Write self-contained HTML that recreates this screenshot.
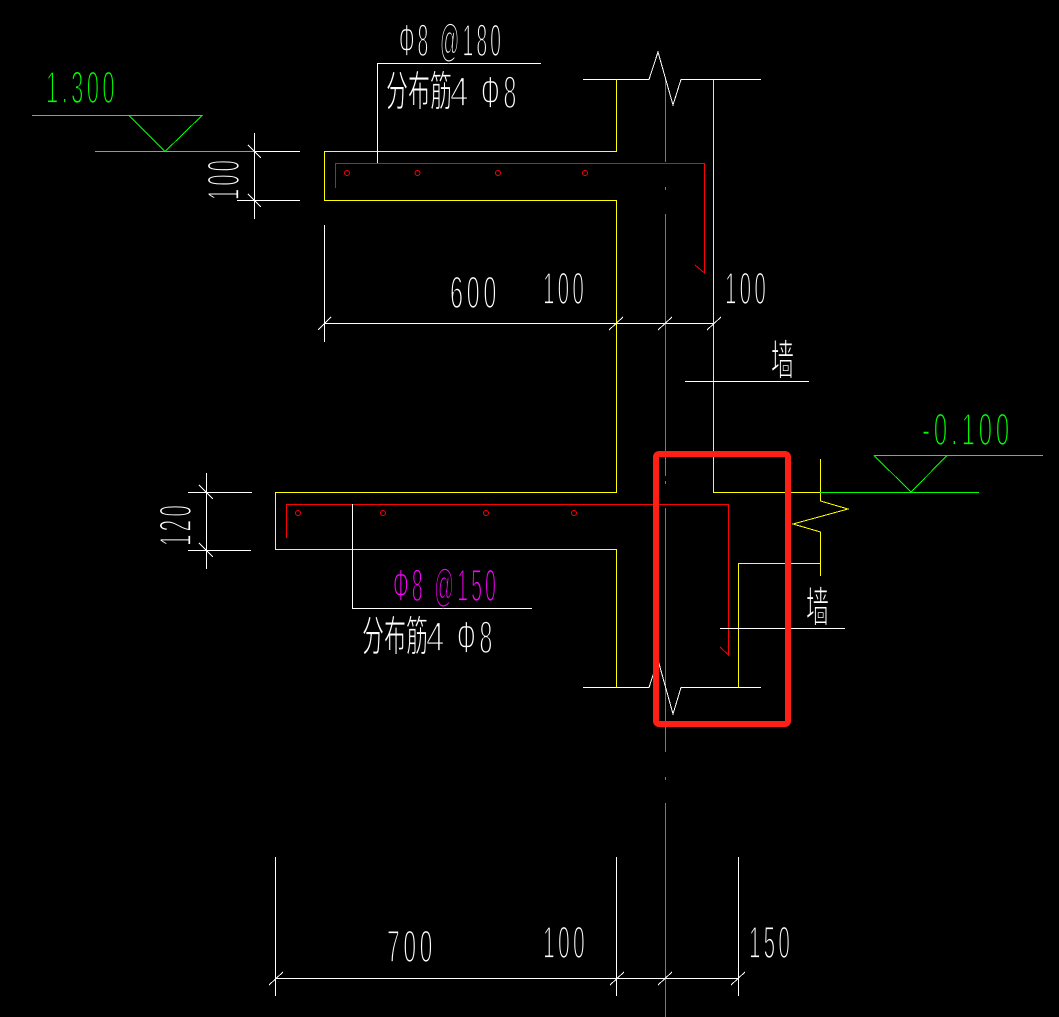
<!DOCTYPE html>
<html lang="zh">
<head>
<meta charset="utf-8">
<title>Detail</title>
<style>
html,body{margin:0;padding:0;background:#000;width:1059px;height:1017px;overflow:hidden}
svg{display:block}
.l{fill:none;shape-rendering:crispEdges;stroke-width:1}
.w{stroke:#fff}.y{stroke:#ff0}.r{stroke:#f00}.g{stroke:#0f0}.b{stroke:#5f7ca6}
text{font-family:"Liberation Sans","Noto Sans CJK SC",sans-serif;stroke:#000;stroke-width:1.7;letter-spacing:7px}
.tw{fill:#fff}.tg{fill:#0f0}.tm{fill:#f0f}
.c{font-family:"Liberation Sans","WenQuanYi Zen Hei","Noto Sans CJK SC",sans-serif;stroke-width:1;letter-spacing:0}
</style>
</head>
<body>
<svg width="1059" height="1017" viewBox="0 0 1059 1017" xmlns="http://www.w3.org/2000/svg">
<rect width="1059" height="1017" fill="#000"/>

<!-- center line -->
<g class="l b">
<path d="M665.5 79V162M665.5 187V190M665.5 214V476M665.5 481V484M665.5 508V752M665.5 777V780M665.5 803V1017"/>
</g>

<!-- concrete outline -->
<g class="l y">
<path d="M616.5 79V151.5H324.5V200.5H616.5V492.5H275.5V549.5H616.5V687"/>
<path d="M713.5 79V492.5H820"/>
<path d="M820.5 459V501L848 509L793 524L820.5 532V576"/>
<path d="M820.5 563.5H738.5V687"/>
</g>

<!-- rebar -->
<g class="l r">
<path d="M335.5 188V163.5H704.5V273L695 265"/>
<path d="M286.5 538V504.5H728.5V655L720 647"/>
</g>
<g fill="none" stroke="#f00" stroke-width="1">
<circle cx="347" cy="173" r="2.5"/><circle cx="417.5" cy="173" r="2.5"/><circle cx="498" cy="173" r="2.5"/><circle cx="585" cy="173" r="2.5"/>
<circle cx="298" cy="513" r="2.5"/><circle cx="383" cy="513" r="2.5"/><circle cx="486" cy="513" r="2.5"/><circle cx="574" cy="513" r="2.5"/>
</g>

<!-- levels -->
<g class="l g">
<path d="M32 115.5H202L165 151.5L129 115.5"/>
<path d="M95 151.5H254"/>
<path d="M820 492.5H979"/>
<path d="M874 455.5H1043"/>
<path d="M874 455.5L911 492L947 455.5"/>
</g>

<!-- white lines -->
<g class="l w">
<path d="M583 79.5H649L658 52L673 105L681 79.5H761"/>
<path d="M583 687.5H649L658 660L673 714L681 687.5H761"/>
<path d="M377.5 163V63.5H541"/>
<path d="M352.5 504V608.5H532"/>
<path d="M685 381.5H809"/>
<path d="M720 628.5H845"/>
<!-- dim 100 left -->
<path d="M254.5 133V219M254 151.5H300M237 200.5H300M248 145L261 158M248 194L261 207"/>
<!-- dim 120 -->
<path d="M206.5 473V569M188 492.5H252M188 550.5H251M199 485L213 499M199 543L213 557"/>
<!-- dim top -->
<path d="M324.5 225V342M324.5 323.5H713.5M318 330L331 317M609 330L623 317M658 330L672 317M707 330L721 317"/>
<!-- dim bottom -->
<path d="M275.5 857V996M616.5 857V996M738.5 857V996M275 978.5H738M269 985L283 972M610 985L624 972M658 985L672 972M731 985L745 972"/>
</g>

<!-- text -->
<text class="tg" x="46" y="103" font-size="45" textLength="72" lengthAdjust="spacingAndGlyphs">1.300</text>
<text class="tg" x="922" y="445" font-size="45" textLength="91" lengthAdjust="spacingAndGlyphs">-0.100</text>

<text class="tw" x="399" y="56" font-size="45" textLength="105" lengthAdjust="spacingAndGlyphs">Φ8 @180</text>
<text class="tw c" x="386" y="106" font-size="42" textLength="66" lengthAdjust="spacingAndGlyphs">分布筋</text>
<text class="tw" x="450" y="106" font-size="42" textLength="24" lengthAdjust="spacingAndGlyphs">4</text>
<text class="tw" x="481" y="108" font-size="45" textLength="39" lengthAdjust="spacingAndGlyphs">Φ8</text>

<text class="tm" x="393" y="601" font-size="45" textLength="106" lengthAdjust="spacingAndGlyphs">Φ8 @150</text>
<text class="tw c" x="362" y="651" font-size="42" textLength="66" lengthAdjust="spacingAndGlyphs">分布筋</text>
<text class="tw" x="426" y="651" font-size="42" textLength="24" lengthAdjust="spacingAndGlyphs">4</text>
<text class="tw" x="457" y="653" font-size="45" textLength="39" lengthAdjust="spacingAndGlyphs">Φ8</text>

<text class="tw" x="450" y="308" font-size="45" textLength="50" lengthAdjust="spacingAndGlyphs">600</text>
<text class="tw" x="543" y="304" font-size="45" textLength="44" lengthAdjust="spacingAndGlyphs">100</text>
<text class="tw" x="725" y="304" font-size="45" textLength="44" lengthAdjust="spacingAndGlyphs">100</text>
<text class="tw" x="387" y="962" font-size="45" textLength="49" lengthAdjust="spacingAndGlyphs">700</text>
<text class="tw" x="543" y="958" font-size="45" textLength="45" lengthAdjust="spacingAndGlyphs">100</text>
<text class="tw" x="749" y="958" font-size="45" textLength="44" lengthAdjust="spacingAndGlyphs">150</text>

<text class="tw" transform="translate(239 200) rotate(-90)" x="0" y="0" font-size="45" textLength="43" lengthAdjust="spacingAndGlyphs">100</text>
<text class="tw" transform="translate(191 546) rotate(-90)" x="0" y="0" font-size="45" textLength="44" lengthAdjust="spacingAndGlyphs">120</text>

<text class="tw c" x="771" y="375" font-size="42" textLength="23" lengthAdjust="spacingAndGlyphs">墙</text>
<text class="tw c" x="806" y="622" font-size="42" textLength="23" lengthAdjust="spacingAndGlyphs">墙</text>

<!-- highlight box -->
<rect x="656" y="454" width="132" height="270" rx="3" ry="3" fill="none" stroke="#ff2015" stroke-width="6"/>
</svg>
</body>
</html>
